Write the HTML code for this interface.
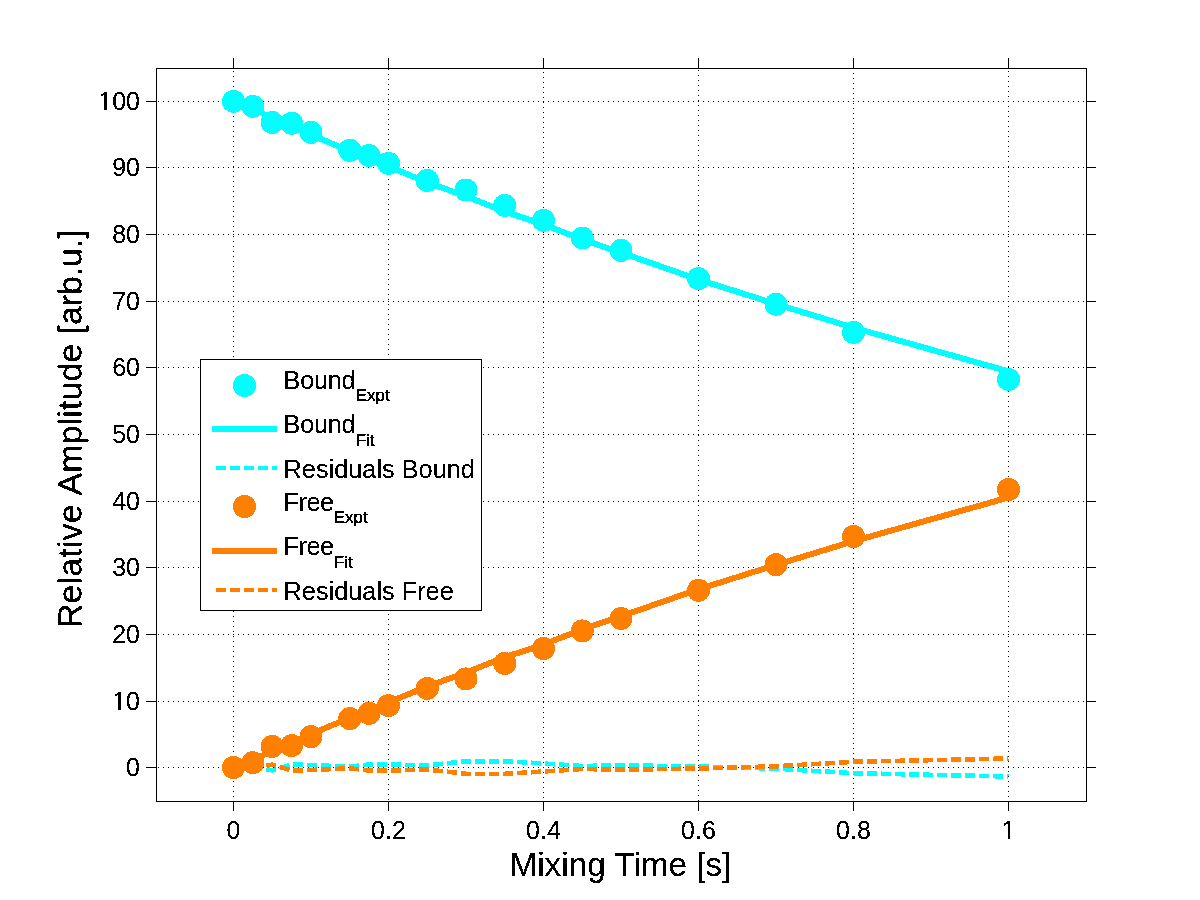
<!DOCTYPE html>
<html><head><meta charset="utf-8"><title>plot</title>
<style>
html,body{margin:0;padding:0;background:#fff;}
body{width:1200px;height:900px;overflow:hidden;}
svg{display:block;}
text{font-family:"Liberation Sans",sans-serif;fill:#000;}
</style></head><body>
<svg width="1200" height="900" viewBox="0 0 1200 900">
<rect x="0" y="0" width="1200" height="900" fill="#fff"/>
<defs><filter id="bw" x="0" y="0" width="1200" height="900" filterUnits="userSpaceOnUse" color-interpolation-filters="sRGB"><feComponentTransfer><feFuncA type="discrete" tableValues="0 0 1 1 1"/></feComponentTransfer></filter></defs>

<g shape-rendering="crispEdges" fill="none" stroke="#000" stroke-width="1">
<line x1="233.5" y1="71" x2="233.5" y2="801" stroke-dasharray="1 4"/>
<line x1="388.5" y1="69" x2="388.5" y2="801" stroke-dasharray="1 4"/>
<line x1="543.5" y1="72" x2="543.5" y2="801" stroke-dasharray="1 4"/>
<line x1="698.5" y1="70" x2="698.5" y2="801" stroke-dasharray="1 4"/>
<line x1="853.5" y1="73" x2="853.5" y2="801" stroke-dasharray="1 4"/>
<line x1="1008.5" y1="71" x2="1008.5" y2="801" stroke-dasharray="1 4"/>
<line x1="158" y1="767.5" x2="1086" y2="767.5" stroke-dasharray="1 4"/>
<line x1="158" y1="701.5" x2="1086" y2="701.5" stroke-dasharray="1 4"/>
<line x1="158" y1="634.5" x2="1086" y2="634.5" stroke-dasharray="1 4"/>
<line x1="158" y1="567.5" x2="1086" y2="567.5" stroke-dasharray="1 4"/>
<line x1="158" y1="501.5" x2="1086" y2="501.5" stroke-dasharray="1 4"/>
<line x1="158" y1="434.5" x2="1086" y2="434.5" stroke-dasharray="1 4"/>
<line x1="158" y1="367.5" x2="1086" y2="367.5" stroke-dasharray="1 4"/>
<line x1="158" y1="301.5" x2="1086" y2="301.5" stroke-dasharray="1 4"/>
<line x1="158" y1="234.5" x2="1086" y2="234.5" stroke-dasharray="1 4"/>
<line x1="158" y1="167.5" x2="1086" y2="167.5" stroke-dasharray="1 4"/>
<line x1="158" y1="101.5" x2="1086" y2="101.5" stroke-dasharray="1 4"/>
</g>
<g shape-rendering="crispEdges" fill="none">
<polyline points="233.50,101.40 252.88,106.80 272.25,119.70 291.62,126.30 311.00,134.80 349.75,151.10 369.12,158.50 388.50,166.50 427.25,182.40 466.00,196.30 504.75,211.70 543.50,224.40 582.25,239.50 621.00,252.60 698.50,279.60 776.00,304.00 853.50,327.70 1008.50,371.40" stroke="#00ffff" stroke-width="6" stroke-linejoin="round"/>
<polyline points="233.50,767.50 252.88,767.00 272.25,770.30 291.62,764.50 311.00,765.00 349.75,766.70 369.12,764.50 388.50,764.30 427.25,765.50 466.00,761.20 504.75,761.20 543.50,763.50 582.25,766.00 621.00,765.30 698.50,766.50 776.00,768.70 853.50,773.20 1008.50,776.50" stroke="#00ffff" stroke-width="4.6" stroke-dasharray="10 4" stroke-dashoffset="9"/>
<circle cx="233.50" cy="101.40" r="11.5" fill="#00ffff"/>
<circle cx="252.88" cy="106.30" r="11.5" fill="#00ffff"/>
<circle cx="272.25" cy="122.50" r="11.5" fill="#00ffff"/>
<circle cx="291.62" cy="123.30" r="11.5" fill="#00ffff"/>
<circle cx="311.00" cy="132.30" r="11.5" fill="#00ffff"/>
<circle cx="349.75" cy="150.30" r="11.5" fill="#00ffff"/>
<circle cx="369.12" cy="155.50" r="11.5" fill="#00ffff"/>
<circle cx="388.50" cy="163.30" r="11.5" fill="#00ffff"/>
<circle cx="427.25" cy="180.40" r="11.5" fill="#00ffff"/>
<circle cx="466.00" cy="190.00" r="11.5" fill="#00ffff"/>
<circle cx="504.75" cy="205.40" r="11.5" fill="#00ffff"/>
<circle cx="543.50" cy="220.40" r="11.5" fill="#00ffff"/>
<circle cx="582.25" cy="238.00" r="11.5" fill="#00ffff"/>
<circle cx="621.00" cy="250.40" r="11.5" fill="#00ffff"/>
<circle cx="698.50" cy="278.60" r="11.5" fill="#00ffff"/>
<circle cx="776.00" cy="304.20" r="11.5" fill="#00ffff"/>
<circle cx="853.50" cy="332.40" r="11.5" fill="#00ffff"/>
<circle cx="1008.50" cy="379.40" r="11.5" fill="#00ffff"/>
<polyline points="233.50,767.50 252.88,762.10 272.25,749.20 291.62,742.60 311.00,734.10 349.75,717.80 369.12,710.40 388.50,702.40 427.25,686.50 466.00,672.60 504.75,657.20 543.50,644.50 582.25,629.40 621.00,616.30 698.50,589.30 776.00,564.90 853.50,541.20 1008.50,497.50" stroke="#ff8000" stroke-width="6" stroke-linejoin="round"/>
<polyline points="233.50,767.50 252.88,768.00 272.25,764.70 291.62,770.50 311.00,770.00 349.75,768.30 369.12,770.50 388.50,770.70 427.25,769.50 466.00,773.80 504.75,773.80 543.50,771.50 582.25,769.00 621.00,769.70 698.50,768.50 776.00,766.30 853.50,761.80 1008.50,758.50" stroke="#ff8000" stroke-width="4.6" stroke-dasharray="10 4" stroke-dashoffset="9"/>
<circle cx="233.50" cy="767.50" r="11.5" fill="#ff8000"/>
<circle cx="252.88" cy="762.60" r="11.5" fill="#ff8000"/>
<circle cx="272.25" cy="746.40" r="11.5" fill="#ff8000"/>
<circle cx="291.62" cy="745.60" r="11.5" fill="#ff8000"/>
<circle cx="311.00" cy="736.60" r="11.5" fill="#ff8000"/>
<circle cx="349.75" cy="718.60" r="11.5" fill="#ff8000"/>
<circle cx="369.12" cy="713.40" r="11.5" fill="#ff8000"/>
<circle cx="388.50" cy="705.60" r="11.5" fill="#ff8000"/>
<circle cx="427.25" cy="688.50" r="11.5" fill="#ff8000"/>
<circle cx="466.00" cy="678.90" r="11.5" fill="#ff8000"/>
<circle cx="504.75" cy="663.50" r="11.5" fill="#ff8000"/>
<circle cx="543.50" cy="648.50" r="11.5" fill="#ff8000"/>
<circle cx="582.25" cy="630.90" r="11.5" fill="#ff8000"/>
<circle cx="621.00" cy="618.50" r="11.5" fill="#ff8000"/>
<circle cx="698.50" cy="590.30" r="11.5" fill="#ff8000"/>
<circle cx="776.00" cy="564.70" r="11.5" fill="#ff8000"/>
<circle cx="853.50" cy="536.50" r="11.5" fill="#ff8000"/>
<circle cx="1008.50" cy="489.50" r="11.5" fill="#ff8000"/>
</g>
<g shape-rendering="crispEdges" fill="none" stroke="#000" stroke-width="1">
<rect x="156.5" y="68.5" width="930" height="733"/>
<line x1="233.5" y1="801" x2="233.5" y2="811"/>
<line x1="233.5" y1="58" x2="233.5" y2="68"/>
<line x1="388.5" y1="801" x2="388.5" y2="811"/>
<line x1="388.5" y1="58" x2="388.5" y2="68"/>
<line x1="543.5" y1="801" x2="543.5" y2="811"/>
<line x1="543.5" y1="58" x2="543.5" y2="68"/>
<line x1="698.5" y1="801" x2="698.5" y2="811"/>
<line x1="698.5" y1="58" x2="698.5" y2="68"/>
<line x1="853.5" y1="801" x2="853.5" y2="811"/>
<line x1="853.5" y1="58" x2="853.5" y2="68"/>
<line x1="1008.5" y1="801" x2="1008.5" y2="811"/>
<line x1="1008.5" y1="58" x2="1008.5" y2="68"/>
<line x1="146" y1="767.5" x2="156" y2="767.5"/>
<line x1="1087" y1="767.5" x2="1096" y2="767.5"/>
<line x1="146" y1="701.5" x2="156" y2="701.5"/>
<line x1="1087" y1="701.5" x2="1096" y2="701.5"/>
<line x1="146" y1="634.5" x2="156" y2="634.5"/>
<line x1="1087" y1="634.5" x2="1096" y2="634.5"/>
<line x1="146" y1="567.5" x2="156" y2="567.5"/>
<line x1="1087" y1="567.5" x2="1096" y2="567.5"/>
<line x1="146" y1="501.5" x2="156" y2="501.5"/>
<line x1="1087" y1="501.5" x2="1096" y2="501.5"/>
<line x1="146" y1="434.5" x2="156" y2="434.5"/>
<line x1="1087" y1="434.5" x2="1096" y2="434.5"/>
<line x1="146" y1="367.5" x2="156" y2="367.5"/>
<line x1="1087" y1="367.5" x2="1096" y2="367.5"/>
<line x1="146" y1="301.5" x2="156" y2="301.5"/>
<line x1="1087" y1="301.5" x2="1096" y2="301.5"/>
<line x1="146" y1="234.5" x2="156" y2="234.5"/>
<line x1="1087" y1="234.5" x2="1096" y2="234.5"/>
<line x1="146" y1="167.5" x2="156" y2="167.5"/>
<line x1="1087" y1="167.5" x2="1096" y2="167.5"/>
<line x1="146" y1="101.5" x2="156" y2="101.5"/>
<line x1="1087" y1="101.5" x2="1096" y2="101.5"/>
</g>
<g filter="url(#bw)">
<text x="233.5" y="838.5" font-size="25" text-anchor="middle">0</text>
<text x="388.5" y="838.5" font-size="25" text-anchor="middle">0.2</text>
<text x="543.5" y="838.5" font-size="25" text-anchor="middle">0.4</text>
<text x="698.5" y="838.5" font-size="25" text-anchor="middle">0.6</text>
<text x="853.5" y="838.5" font-size="25" text-anchor="middle">0.8</text>
<text x="1008.5" y="838.5" font-size="25" text-anchor="middle">1</text>
<text x="140" y="776.0" font-size="25" text-anchor="end">0</text>
<text x="140" y="710.0" font-size="25" text-anchor="end">10</text>
<text x="140" y="643.0" font-size="25" text-anchor="end">20</text>
<text x="140" y="576.0" font-size="25" text-anchor="end">30</text>
<text x="140" y="510.0" font-size="25" text-anchor="end">40</text>
<text x="140" y="443.0" font-size="25" text-anchor="end">50</text>
<text x="140" y="376.0" font-size="25" text-anchor="end">60</text>
<text x="140" y="310.0" font-size="25" text-anchor="end">70</text>
<text x="140" y="243.0" font-size="25" text-anchor="end">80</text>
<text x="140" y="176.0" font-size="25" text-anchor="end">90</text>
<text x="140" y="110.0" font-size="25" text-anchor="end">100</text>
<rect x="1002" y="835.5" width="6" height="4" fill="#fff" shape-rendering="crispEdges"/>
<rect x="1010" y="835.5" width="6" height="4" fill="#fff" shape-rendering="crispEdges"/>
<rect x="99" y="107.5" width="5" height="4" fill="#fff" shape-rendering="crispEdges"/>
<rect x="107" y="107.5" width="5" height="4" fill="#fff" shape-rendering="crispEdges"/>
<rect x="113" y="707.5" width="5" height="4" fill="#fff" shape-rendering="crispEdges"/>
<rect x="121" y="707.5" width="5" height="4" fill="#fff" shape-rendering="crispEdges"/>
<text x="620.5" y="875.5" font-size="33.3" text-anchor="middle">Mixing Time [s]</text>
<text transform="translate(81.5,428.3) rotate(-90)" font-size="33.9" xml:space="preserve"><tspan x="-199.8" letter-spacing="0.17">Relative </tspan><tspan x="-67.2" letter-spacing="0.13">Amplitude </tspan><tspan x="93.9" letter-spacing="-0.08">[arb.u.]</tspan></text>
</g>
<rect x="200.5" y="359.5" width="281" height="251" fill="#fff" stroke="#000" stroke-width="1" shape-rendering="crispEdges"/>
<g shape-rendering="crispEdges" fill="none">
<circle cx="244.5" cy="385.5" r="11.5" fill="#00ffff"/>
<line x1="212" y1="429" x2="277" y2="429" stroke="#00ffff" stroke-width="6"/>
<line x1="212" y1="468" x2="277" y2="468" stroke="#00ffff" stroke-width="4" stroke-dasharray="10 4" stroke-dashoffset="10"/>
<circle cx="244.5" cy="506.5" r="11.5" fill="#ff8000"/>
<line x1="212" y1="551" x2="277" y2="551" stroke="#ff8000" stroke-width="6"/>
<line x1="212" y1="590" x2="277" y2="590" stroke="#ff8000" stroke-width="4" stroke-dasharray="10 4" stroke-dashoffset="10"/>
</g>
<g filter="url(#bw)">
<text x="283.6" y="389.0" font-size="25.3"><tspan letter-spacing="-0.3">Bound</tspan><tspan font-size="17" dx="0.4" dy="11.5" stroke="#000" stroke-width="0.2">Expt</tspan></text>
<text x="283.6" y="432.8" font-size="25.3"><tspan letter-spacing="-0.3">Bound</tspan><tspan font-size="17" dx="0.4" dy="13" stroke="#000" stroke-width="0.2">Fit</tspan></text>
<text x="283.6" y="478.0" font-size="25.3">Residuals Bound</text>
<text x="283.6" y="510.8" font-size="25.3"><tspan letter-spacing="-0.5">Free</tspan><tspan font-size="17" dx="0.15" dy="11.7" stroke="#000" stroke-width="0.2">Expt</tspan></text>
<text x="283.6" y="555.3" font-size="25.3"><tspan letter-spacing="-0.5">Free</tspan><tspan font-size="17" dx="0.15" dy="12.2" stroke="#000" stroke-width="0.2">Fit</tspan></text>
<text x="283.6" y="599.6" font-size="25.3">Residuals Free</text>
</g>
</svg></body></html>
